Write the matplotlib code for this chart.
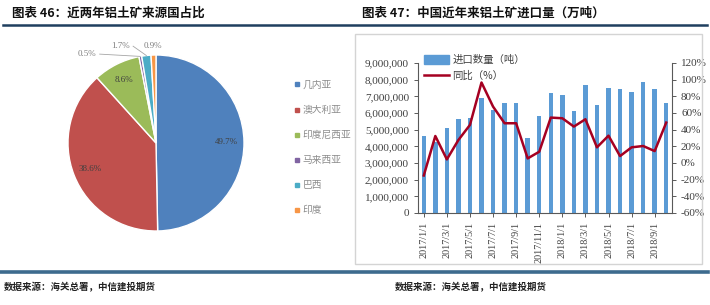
import numpy as np
import matplotlib
matplotlib.use("Agg")
import matplotlib.pyplot as plt
from matplotlib.patches import Rectangle, Patch
from matplotlib.lines import Line2D
from matplotlib.ticker import FuncFormatter

plt.rcParams['font.family'] = ['Liberation Serif', 'Noto Sans CJK SC', 'DejaVu Sans']

# pie data
countries = ["几内亚", "澳大利亚", "印度尼西亚", "马来西亚", "巴西", "印度"]
shares = [49.7, 38.6, 8.6, 0.5, 1.7, 0.9]
pie_colors = ["#4F81BD", "#C0504D", "#9BBB59", "#8064A2", "#4BACC6", "#F79646"]

# import data, 2017/1 .. 2018/10
months = ["2017/1/1", "2017/2/1", "2017/3/1", "2017/4/1", "2017/5/1", "2017/6/1",
          "2017/7/1", "2017/8/1", "2017/9/1", "2017/10/1", "2017/11/1", "2017/12/1",
          "2018/1/1", "2018/2/1", "2018/3/1", "2018/4/1", "2018/5/1", "2018/6/1",
          "2018/7/1", "2018/8/1", "2018/9/1", "2018/10/1"]
imports = [4620000, 4280000, 5090000, 5630000, 5690000, 6900000,
           6190000, 6590000, 6590000, 4480000, 5820000, 7190000,
           7070000, 6120000, 7690000, 6490000, 7530000, 7430000,
           7290000, 7890000, 7430000, 6590000]
yoy = [-15, 32.4, 4.3, 27.6, 45.7, 96.6,
       67.7, 47.7, 47.7, 5.5, 13.5, 54.5,
       53.7, 43.7, 52.5, 18.8, 32.8, 8.3,
       18.8, 20.4, 14.3, 48.5]

W, H = 710, 305
fig = plt.figure(figsize=(W / 100, H / 100), dpi=100)


def fx(px):
    return px / W


def fy(py):
    return 1 - py / H


cjk = ['Noto Sans CJK SC', 'DejaVu Sans']

# titles and rules
fig.text(fx(12), fy(13), "图表 46：近两年铝土矿来源国占比", family=cjk, fontsize=9,
         fontweight='bold', va='center', ha='left', color='#111111')
fig.text(fx(362), fy(13), "图表 47：中国近年来铝土矿进口量（万吨）", family=cjk, fontsize=9,
         fontweight='bold', va='center', ha='left', color='#111111')
fig.add_artist(Line2D([fx(3), fx(707)], [fy(25), fy(25)], color='#1f3f5f', lw=1.8))
fig.add_artist(Line2D([fx(0), fx(708)], [fy(272), fy(272)], color='#3d6b8e', lw=2.6))
fig.text(fx(4), fy(287), "数据来源：海关总署，中信建投期货", family=cjk, fontsize=6.8,
         fontweight='bold', va='center', ha='left', color='#222222', style='italic')
fig.text(fx(395), fy(287), "数据来源：海关总署，中信建投期货", family=cjk, fontsize=6.8,
         fontweight='bold', va='center', ha='left', color='#222222', style='italic')

# right chart frame
fig.add_artist(Rectangle((fx(355), fy(264)), fx(702) - fx(355), fy(34) - fy(264),
                         transform=fig.transFigure, fill=False, edgecolor='#d4d4d4', lw=1))

# ---- pie ----
axp = fig.add_axes([fx(68), fy(231), fx(176), fy(55) - fy(231)])
wedges, texts, autotexts = axp.pie(shares, colors=pie_colors, startangle=90, counterclock=False,
                                   autopct='%.1f%%', pctdistance=0.8,
                                   wedgeprops=dict(edgecolor='white', linewidth=1),
                                   textprops=dict(fontsize=6.5, color='#404040'))
axp.set_xlim(-1, 1)
axp.set_ylim(-1, 1)
axp.set_aspect('equal')
# small slices: labels outside with leader lines
out_pos = {3: (-0.78, 1.01), 4: (-0.40, 1.10), 5: (-0.03, 1.10)}
for i, (tx, ty) in out_pos.items():
    w = wedges[i]
    ang = np.deg2rad((w.theta1 + w.theta2) / 2)
    autotexts[i].set_position((tx, ty))
    autotexts[i].set_ha('center')
    autotexts[i].set_va('center')
    autotexts[i].set_color('#7f7f7f')
    autotexts[i].set_clip_on(False)
    if i in (3, 4):
        axp.plot([tx + 0.14, np.cos(ang) * 1.0], [ty, np.sin(ang) * 1.0],
                 color='#a6a6a6', lw=0.6, clip_on=False)

handles = [Line2D([], [], marker='s', ls='', color=c, markersize=3.5) for c in pie_colors]
fig.legend(handles, countries, loc='upper left', bbox_to_anchor=(fx(288), fy(76)),
           frameon=False, prop=dict(family=cjk, size=7), labelcolor='#8c8c8c',
           handletextpad=0.1, labelspacing=1.55, handlelength=1.0, borderaxespad=0)

# ---- bar + line ----
ax = fig.add_axes([fx(418), fy(213), fx(672) - fx(418), fy(63) - fy(213)])
x = np.arange(len(months))
ax.bar(x, imports, width=0.38, color='#5B9BD5', zorder=2)
ax.set_ylim(0, 9000000)
ax.set_yticks(np.arange(0, 9000001, 1000000))
ax.yaxis.set_major_formatter(FuncFormatter(lambda v, p: f"{int(v):,}"))
ax.set_xlim(-0.5, len(months) - 0.5)
ax.set_xticks(x[::2])
ax.set_xticklabels(months[::2], rotation=90, fontsize=7.3, color='#404040')
ax.tick_params(axis='y', labelsize=8, colors='#404040', length=3, width=0.6)
ax.tick_params(axis='x', length=3, width=0.6, colors='#404040')
for s in ('top', 'right'):
    ax.spines[s].set_visible(False)
for s in ('left', 'bottom'):
    ax.spines[s].set_color('#595959')
    ax.spines[s].set_linewidth(0.8)

ax2 = ax.twinx()
ax2.plot(x, yoy, color='#A50021', lw=1.8, zorder=3)
ax2.set_ylim(-60, 120)
ax2.set_yticks(np.arange(-60, 121, 20))
ax2.yaxis.set_major_formatter(FuncFormatter(lambda v, p: f"{int(v)}%"))
ax2.tick_params(axis='y', labelsize=8, colors='#404040', length=3, width=0.6)
for s in ('top', 'left', 'bottom'):
    ax2.spines[s].set_visible(False)
ax2.spines['right'].set_color('#595959')
ax2.spines['right'].set_linewidth(0.8)

leg_h = [Patch(color='#5B9BD5'), Line2D([], [], color='#A50021', lw=1.8)]
fig.legend(leg_h, ["进口数量（吨）", "同比（%）"], loc='upper left',
           bbox_to_anchor=(fx(420), fy(51)), frameon=False,
           prop=dict(family=cjk, size=7.5), labelcolor='#404040',
           handlelength=2.4, handleheight=0.9, handletextpad=0.3, labelspacing=0.55,
           borderaxespad=0)

fig.savefig("out.png", dpi=100, facecolor='white')
